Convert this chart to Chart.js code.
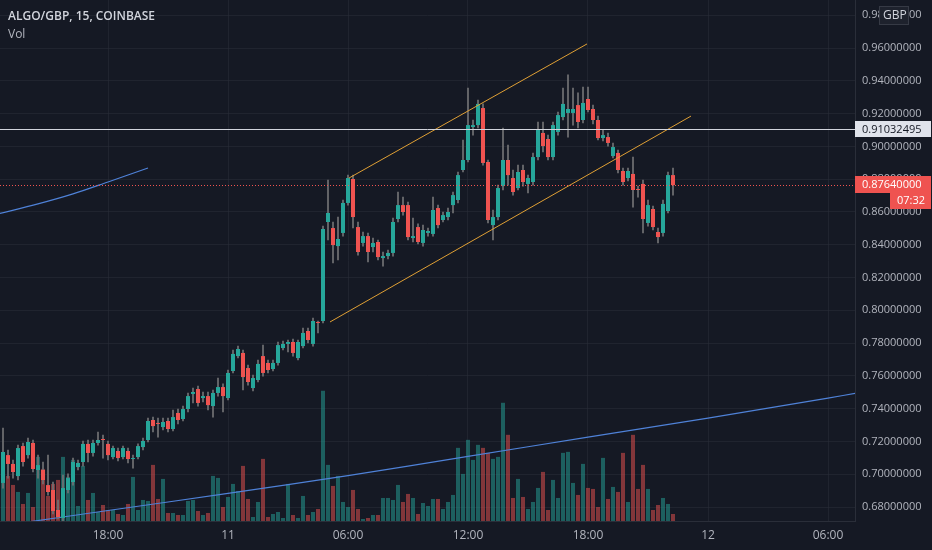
<!DOCTYPE html>
<html>
<head>
<meta charset="utf-8">
<title>ALGO/GBP, 15, COINBASE</title>
<script src="https://cdn.jsdelivr.net/npm/chart.js@4.4.0/dist/chart.umd.min.js"></script>
<style>
    html, body { margin: 0; padding: 0; background: #151924; }
    #wrap { position: relative; width: 932px; height: 550px; }
    #title { position: absolute; left: 8px; top: 7px; font: 600 12px "Open Sans", sans-serif; color: #d1d4dc; }
    #vol { position: absolute; left: 8px; top: 25px; font: 12px "Open Sans", sans-serif; color: #b2b5be; }
</style>
</head>
<body>
<div id="wrap">
    <canvas id="candles" width="932" height="550"></canvas>
    <div id="title">ALGO/GBP, 15, COINBASE</div>
    <div id="vol">Vol</div>
</div>
<script>
(function() {
    "use strict";

    // 15-minute bars, counted from the 18:00 bar of the 10th
    var firstBar = -21;

    var opens = [0.6947, 0.7117, 0.7063, 0.6989, 0.7172, 0.7117, 0.7191, 0.7026, 0.7026, 0.6934, 0.6904, 0.6782, 0.6733, 0.6904, 0.6953, 0.7044, 0.7075, 0.7185, 0.7130, 0.7191, 0.7215,
        0.7185, 0.7105, 0.7142, 0.7105, 0.7142, 0.7093, 0.7105, 0.7166, 0.7209, 0.7331, 0.7313, 0.7288, 0.7325, 0.7276, 0.7374, 0.7337, 0.7398, 0.7490, 0.7520, 0.7465, 0.7477, 0.7416, 0.7496, 0.7532,
        0.7465, 0.7630, 0.7721, 0.7740, 0.7648, 0.7526, 0.7575, 0.7721, 0.7679, 0.7642, 0.7679, 0.7770, 0.7795, 0.7807, 0.7709, 0.7782, 0.7874, 0.7795, 0.7929, 0.7935, 0.8539, 0.8502, 0.8392, 0.8472,
        0.8655, 0.8801, 0.8508, 0.8411, 0.8453, 0.8386, 0.8417, 0.8319, 0.8331, 0.8350, 0.8557, 0.8642, 0.8642, 0.8441, 0.8508, 0.8411, 0.8472, 0.8466, 0.8624, 0.8551, 0.8569, 0.8642, 0.8673, 0.8856,
        0.8917, 0.9118, 0.9130, 0.9234, 0.8905, 0.8520, 0.8569, 0.8758, 0.8917, 0.8807, 0.8746, 0.8856, 0.8771, 0.8783, 0.8935, 0.9082, 0.9045, 0.8935, 0.9088, 0.9179, 0.9204, 0.9204, 0.9252, 0.9161,
        0.9289, 0.9228, 0.9161, 0.9051, 0.9057, 0.8941, 0.8960, 0.8850, 0.8807, 0.8832, 0.8740, 0.8771, 0.8533, 0.8618, 0.8478, 0.8472, 0.8606, 0.8825];
    var highs = [0.7282, 0.7148, 0.7087, 0.7178, 0.7191, 0.7221, 0.7209, 0.7117, 0.7075, 0.7117, 0.6953, 0.6843, 0.6995, 0.7002, 0.7099, 0.7087, 0.7203, 0.7209, 0.7209, 0.7258, 0.7239,
        0.7203, 0.7172, 0.7160, 0.7172, 0.7160, 0.7117, 0.7185, 0.7221, 0.7343, 0.7349, 0.7343, 0.7343, 0.7343, 0.7392, 0.7398, 0.7416, 0.7496, 0.7526, 0.7538, 0.7502, 0.7502, 0.7514, 0.7587, 0.7551,
        0.7636, 0.7758, 0.7782, 0.7758, 0.7666, 0.7605, 0.7697, 0.7788, 0.7697, 0.7697, 0.7807, 0.7813, 0.7819, 0.7825, 0.7819, 0.7892, 0.7892, 0.7953, 0.7935, 0.8514, 0.8795, 0.8539, 0.8569, 0.8673,
        0.8825, 0.8825, 0.8539, 0.8478, 0.8472, 0.8441, 0.8429, 0.8356, 0.8368, 0.8563, 0.8722, 0.8691, 0.8661, 0.8563, 0.8527, 0.8520, 0.8502, 0.8691, 0.8642, 0.8600, 0.8624, 0.8722, 0.8844, 0.9039,
        0.9356, 0.9161, 0.9283, 0.9259, 0.8917, 0.8612, 0.8764, 0.9112, 0.9008, 0.8856, 0.8886, 0.8886, 0.8825, 0.8960, 0.9149, 0.9149, 0.9069, 0.9149, 0.9210, 0.9356, 0.9436, 0.9356, 0.9326, 0.9362,
        0.9362, 0.9252, 0.9185, 0.9100, 0.9082, 0.9021, 0.8978, 0.8868, 0.8868, 0.8935, 0.8758, 0.8795, 0.8673, 0.8636, 0.8502, 0.8673, 0.8844, 0.8868];
    var lows = [0.6916, 0.6977, 0.6977, 0.6965, 0.7050, 0.7099, 0.7014, 0.6977, 0.6941, 0.6873, 0.6758, 0.6727, 0.6715, 0.6886, 0.6934, 0.7026, 0.7050, 0.7075, 0.7111, 0.7178, 0.7099,
        0.7087, 0.7093, 0.7081, 0.7093, 0.7069, 0.7038, 0.7093, 0.7148, 0.7197, 0.7258, 0.7227, 0.7270, 0.7258, 0.7264, 0.7307, 0.7325, 0.7380, 0.7435, 0.7416, 0.7441, 0.7392, 0.7349, 0.7477, 0.7380,
        0.7453, 0.7618, 0.7709, 0.7514, 0.7544, 0.7508, 0.7563, 0.7599, 0.7618, 0.7630, 0.7666, 0.7758, 0.7746, 0.7721, 0.7697, 0.7770, 0.7801, 0.7782, 0.7862, 0.7923, 0.8429, 0.8289, 0.8307, 0.8453,
        0.8642, 0.8502, 0.8337, 0.8392, 0.8295, 0.8356, 0.8307, 0.8270, 0.8313, 0.8331, 0.8539, 0.8581, 0.8429, 0.8417, 0.8405, 0.8392, 0.8453, 0.8453, 0.8502, 0.8539, 0.8551, 0.8594, 0.8655, 0.8844,
        0.8905, 0.9069, 0.9112, 0.8886, 0.8533, 0.8429, 0.8551, 0.8734, 0.8764, 0.8703, 0.8734, 0.8758, 0.8716, 0.8764, 0.8917, 0.8966, 0.8917, 0.8917, 0.9069, 0.9161, 0.9057, 0.9130, 0.9112, 0.9143,
        0.9210, 0.9137, 0.9039, 0.9033, 0.9002, 0.8929, 0.8838, 0.8764, 0.8789, 0.8630, 0.8691, 0.8472, 0.8514, 0.8490, 0.8411, 0.8453, 0.8594, 0.8703];
    var closes = [0.7136, 0.7063, 0.7014, 0.7160, 0.7075, 0.7197, 0.7032, 0.7056, 0.6965, 0.6892, 0.6776, 0.6739, 0.6916, 0.6977, 0.7075, 0.7069, 0.7185, 0.7130, 0.7191, 0.7209, 0.7209,
        0.7117, 0.7160, 0.7099, 0.7160, 0.7093, 0.7099, 0.7172, 0.7203, 0.7325, 0.7294, 0.7307, 0.7319, 0.7276, 0.7349, 0.7331, 0.7398, 0.7477, 0.7502, 0.7435, 0.7477, 0.7422, 0.7496, 0.7532, 0.7477,
        0.7618, 0.7734, 0.7764, 0.7593, 0.7563, 0.7587, 0.7673, 0.7618, 0.7636, 0.7679, 0.7788, 0.7795, 0.7807, 0.7740, 0.7807, 0.7862, 0.7819, 0.7935, 0.7923, 0.8496, 0.8594, 0.8398, 0.8435, 0.8655,
        0.8807, 0.8569, 0.8356, 0.8453, 0.8356, 0.8411, 0.8325, 0.8331, 0.8350, 0.8539, 0.8642, 0.8600, 0.8447, 0.8453, 0.8417, 0.8490, 0.8484, 0.8612, 0.8520, 0.8581, 0.8600, 0.8703, 0.8825, 0.8917,
        0.9130, 0.9130, 0.9259, 0.8899, 0.8551, 0.8569, 0.8746, 0.8917, 0.8825, 0.8722, 0.8844, 0.8783, 0.8807, 0.8935, 0.9106, 0.9002, 0.8935, 0.9130, 0.9191, 0.9259, 0.9228, 0.9228, 0.9149, 0.9265,
        0.9222, 0.9161, 0.9051, 0.9069, 0.9021, 0.8996, 0.8856, 0.8783, 0.8850, 0.8734, 0.8734, 0.8557, 0.8642, 0.8508, 0.8447, 0.8649, 0.8825, 0.8764];
    var volumes = [39, 45, 36, 29, 17, 28, 14, 64, 52, 25, 37, 41, 64, 44, 61, 15, 55, 21, 28, 9, 16,
        11, 11, 7, 6, 17, 44, 11, 21, 20, 56, 22, 42, 8, 8, 6, 6, 20, 21, 10, 6, 8, 45, 43, 14,
        24, 37, 30, 55, 22, 4, 19, 62, 4, 7, 9, 3, 37, 6, 3, 25, 6, 9, 12, 130, 56, 35, 45, 19,
        14, 31, 12, 2, 3, 6, 6, 23, 23, 21, 36, 19, 27, 23, 7, 18, 15, 22, 22, 12, 19, 26, 73, 47,
        81, 61, 76, 73, 68, 62, 64, 118, 86, 23, 42, 24, 12, 19, 33, 49, 11, 41, 23, 68, 69, 38, 26, 57,
        33, 32, 14, 63, 22, 34, 29, 68, 19, 86, 32, 56, 32, 11, 16, 23, 17, 7];

    var timeTickPos = [0, 24, 48, 72, 96, 120, 144];
    var timeTickLabels = ['18:00', '11', '06:00', '12:00', '18:00', '12', '06:00'];
    var priceTicks = [0.68, 0.70, 0.72, 0.74, 0.76, 0.78, 0.80, 0.82, 0.84, 0.86, 0.88, 0.90, 0.92, 0.94, 0.96, 0.98];

    // moving averages and the drawn channel, read at a few bars
    var maSlowX = [-16, 0, 24, 48, 72, 96, 120, 144, 150];
    var maSlowY = [0.6709, 0.6779, 0.6883, 0.6992, 0.7109, 0.7227, 0.7343, 0.7465, 0.7496];
    var maFastX = [-22, -14, -7, 0, 8];
    var maFastY = [0.8588, 0.8649, 0.8710, 0.8783, 0.8868];
    var channelTopX = [48.2, 95.8];
    var channelTopY = [0.8807, 0.9625];
    var channelLowX = [44.4, 116.6];
    var channelLowY = [0.7929, 0.9185];

    var alertPrice = 0.91032495;
    var countdown = '07:32';

    var upColor = '#26a69a';
    var downColor = '#ef5350';

    var isUp = closes.map(function(c, i) { return c >= opens[i]; });
    var bodies = opens.map(function(o, i) { return { x: firstBar + i, y: [o, closes[i]] }; });
    var wicks = highs.map(function(h, i) { return { x: firstBar + i, y: [lows[i], h] }; });
    var vols = volumes.map(function(v, i) { return { x: firstBar + i, y: v }; });
    var pts = function(xs, ys) { return xs.map(function(x, i) { return { x: x, y: ys[i] }; }); };
    var lastPrice = closes[closes.length - 1];

    Chart.defaults.font.family = "'Open Sans', sans-serif";

    var priceLines = {
        id: 'priceLines',
        afterDatasetsDraw: function(chart) {
            var ctx = chart.ctx, a = chart.chartArea, y = chart.scales.y;
            ctx.save();
            var ya = Math.round(y.getPixelForValue(alertPrice)) + 0.5;
            ctx.strokeStyle = '#d1d4dc';
            ctx.lineWidth = 1;
            ctx.beginPath();
            ctx.moveTo(a.left, ya);
            ctx.lineTo(a.right, ya);
            ctx.stroke();
            var yl = Math.round(y.getPixelForValue(lastPrice)) + 0.5;
            ctx.strokeStyle = downColor;
            ctx.setLineDash([1, 2]);
            ctx.beginPath();
            ctx.moveTo(a.left, yl);
            ctx.lineTo(a.right, yl);
            ctx.stroke();
            ctx.restore();
        },
        afterDraw: function(chart) {
            var ctx = chart.ctx, a = chart.chartArea, y = chart.scales.y;
            var x0 = a.right;
            ctx.save();
            ctx.font = "11px 'Open Sans', sans-serif";
            ctx.textBaseline = 'middle';

            var ya = Math.round(y.getPixelForValue(alertPrice));
            ctx.fillStyle = '#e0e3eb';
            ctx.fillRect(x0, ya - 8, 76, 16);
            ctx.fillStyle = '#131722';
            ctx.fillText(alertPrice.toFixed(8), x0 + 7, ya + 1);

            var yl = Math.round(y.getPixelForValue(lastPrice));
            ctx.fillStyle = downColor;
            ctx.fillRect(x0, yl - 9, 76, 17);
            ctx.fillRect(x0 + 35, yl + 8, 41, 16);
            ctx.fillStyle = '#ffffff';
            ctx.fillText(lastPrice.toFixed(8), x0 + 7, yl);
            ctx.fillText(countdown, x0 + 42, yl + 16);

            ctx.fillStyle = '#1e222d';
            ctx.strokeStyle = '#363a45';
            ctx.fillRect(x0 + 24, 6, 30, 19);
            ctx.strokeRect(x0 + 24.5, 6.5, 29, 18);
            ctx.fillStyle = '#d1d4dc';
            ctx.font = "12px 'Open Sans', sans-serif";
            ctx.fillText('GBP', x0 + 28, 16);
            ctx.restore();
        }
    };

    var canvas = document.getElementById('candles');

    var myChart = new Chart(canvas, {
        type: 'bar',
        data: {
            datasets: [{
                type: 'line',
                data: pts(channelTopX, channelTopY),
                borderColor: '#e0a035',
                borderWidth: 1,
                pointRadius: 0,
                order: 0,
            }, {
                type: 'line',
                data: pts(channelLowX, channelLowY),
                borderColor: '#e0a035',
                borderWidth: 1,
                pointRadius: 0,
                order: 0,
            }, {
                label: 'body',
                data: bodies,
                backgroundColor: isUp.map(function(u) { return u ? upColor : downColor; }),
                grouped: false,
                categoryPercentage: 1,
                barPercentage: 0.8,
                minBarLength: 1,
                order: 1,
            }, {
                label: 'wick',
                data: wicks,
                backgroundColor: '#737375',
                grouped: false,
                barThickness: 1,
                order: 2,
            }, {
                type: 'line',
                data: pts(maSlowX, maSlowY),
                borderColor: '#4f82d8',
                borderWidth: 1.2,
                pointRadius: 0,
                tension: 0.3,
                order: 3,
            }, {
                type: 'line',
                data: pts(maFastX, maFastY),
                borderColor: '#4f82d8',
                borderWidth: 1.2,
                pointRadius: 0,
                tension: 0.3,
                order: 3,
            }, {
                label: 'Vol',
                data: vols,
                yAxisID: 'yv',
                backgroundColor: isUp.map(function(u) { return u ? 'rgba(38,166,154,0.5)' : 'rgba(239,83,80,0.5)'; }),
                grouped: false,
                categoryPercentage: 1,
                barPercentage: 0.8,
                order: 4,
            }]
        },
        options: {
            responsive: false,
            animation: false,
            layout: { padding: 0 },
            plugins: {
                legend: { display: false },
                tooltip: { enabled: false },
            },
            scales: {
                x: {
                    type: 'linear',
                    min: -21.6,
                    max: 149.4,
                    offset: false,
                    afterBuildTicks: function(s) { s.ticks = timeTickPos.map(function(v) { return { value: v }; }); },
                    afterFit: function(s) { s.height = 29; s.paddingLeft = 0; s.paddingRight = 0; },
                    ticks: {
                        autoSkip: false,
                        maxRotation: 0,
                        padding: 7,
                        color: '#b2b5be',
                        font: { size: 12 },
                        callback: function(v) { return timeTickLabels[timeTickPos.indexOf(v)]; },
                    },
                    grid: { color: 'rgba(42,46,57,0.55)', drawTicks: false, offset: false },
                    border: { color: '#2a2e39' },
                },
                y: {
                    position: 'right',
                    min: 0.6715,
                    max: 0.9893,
                    afterBuildTicks: function(s) { s.ticks = priceTicks.map(function(v) { return { value: v }; }); },
                    afterFit: function(s) { s.width = 77; s.paddingTop = 0; s.paddingBottom = 0; },
                    ticks: {
                        padding: 7,
                        color: '#b2b5be',
                        font: { size: 11 },
                        callback: function(v) { return v.toFixed(8); },
                    },
                    grid: { color: 'rgba(42,46,57,0.55)', drawTicks: false },
                    border: { color: '#2a2e39' },
                },
                yv: {
                    display: false,
                    min: 0,
                    max: Math.max.apply(null, volumes) * 4,
                },
            },
        },
        plugins: [priceLines],
    });

})();
</script>
</body>
</html>
